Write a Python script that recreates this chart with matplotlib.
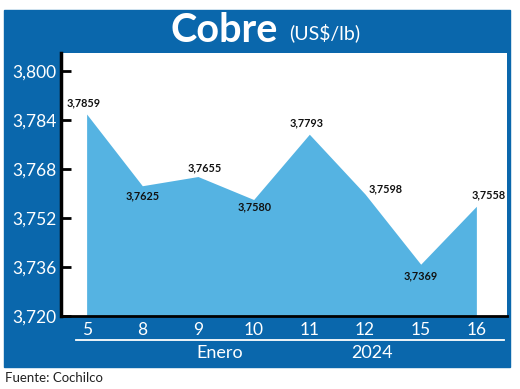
import numpy as np
import matplotlib.pyplot as plt
from matplotlib.patches import Rectangle
from matplotlib.lines import Line2D

# Data
days = ["5", "8", "9", "10", "11", "12", "15", "16"]
prices = [3.7859, 3.7625, 3.7655, 3.7580, 3.7793, 3.7598, 3.7369, 3.7558]
price_labels = ["3,7859", "3,7625", "3,7655", "3,7580", "3,7793", "3,7598", "3,7369", "3,7558"]
yticks = [3.720, 3.736, 3.752, 3.768, 3.784, 3.800]
ytick_labels = ["3,720", "3,736", "3,752", "3,768", "3,784", "3,800"]

# label offsets (pixels, from vertex)
label_dx = [-3, 0, 7, 1, -3, 21, 0, 12]
label_dy = [11, -10, 9, -7, 11, 5, -12, 11]

BLUE = "#0a67ac"
FILL = "#55b3e2"
FONT = "Lato"

W, H = 520, 389
fig = plt.figure(figsize=(W / 100, H / 100), dpi=100)
fig.patch.set_facecolor("white")

# Blue frame
fig.patches.append(Rectangle((4 / W, 1 - 367 / H), 506 / W, 357 / H,
                             transform=fig.transFigure, color=BLUE, zorder=-1))

# Plot area
ax = fig.add_axes([61 / W, 1 - 316 / H, 446 / W, 263 / H])
ax.set_zorder(1)
ax.set_facecolor("white")
x = np.arange(len(days))
ymin, ymax = 3.720, 3.8058
ax.fill_between(x, ymin, prices, color=FILL, linewidth=0, zorder=2)
ax.set_xlim(-0.46, 7.55)
ax.set_ylim(ymin, ymax)

for i, (v, lab) in enumerate(zip(prices, price_labels)):
    ax.annotate(lab, (x[i], v), xytext=(label_dx[i] * 0.72, label_dy[i] * 0.72),
                textcoords="offset points", ha="center", va="center",
                fontsize=7.8, family=FONT, fontweight="bold", color="#111111", zorder=5)

for s in ["top", "right"]:
    ax.spines[s].set_visible(False)
ax.spines["left"].set_linewidth(2.5)
ax.spines["bottom"].set_linewidth(2)
ax.spines["left"].set_color("black")
ax.spines["bottom"].set_color("black")

ax.set_yticks(yticks)
ax.set_yticklabels(ytick_labels, family=FONT, fontsize=12.5, color="white")
ax.tick_params(axis="y", direction="in", length=7.5, width=2, color="black", pad=3)
ax.set_xticks(x)
ax.set_xticklabels(days, family=FONT, fontsize=12.5, color="white")
ax.tick_params(axis="x", length=0, pad=4)

# Title
fig.text(278 / W, 1 - 30 / H, "Cobre", ha="right", va="center", color="white",
         fontsize=28.5, family=FONT, fontweight="bold")
fig.text(289 / W, 1 - 33 / H, "(US$/lb)", ha="left", va="center", color="white",
         fontsize=14, family=FONT)

# Bottom labels
fig.lines.append(Line2D([76 / W, 504 / W], [1 - 340 / H, 1 - 340 / H],
                        transform=fig.transFigure, color="white", linewidth=1.3))
fig.text(220 / W, 1 - 353 / H, "Enero", ha="center", va="center", color="white",
         fontsize=13, family=FONT)
fig.text(372 / W, 1 - 353 / H, "2024", ha="center", va="center", color="white",
         fontsize=13, family=FONT)

fig.text(5 / W, 1 - 378 / H, "Fuente: Cochilco", ha="left", va="center", color="#222222",
         fontsize=9.5, family=FONT)

fig.savefig("out.png", dpi=100)
